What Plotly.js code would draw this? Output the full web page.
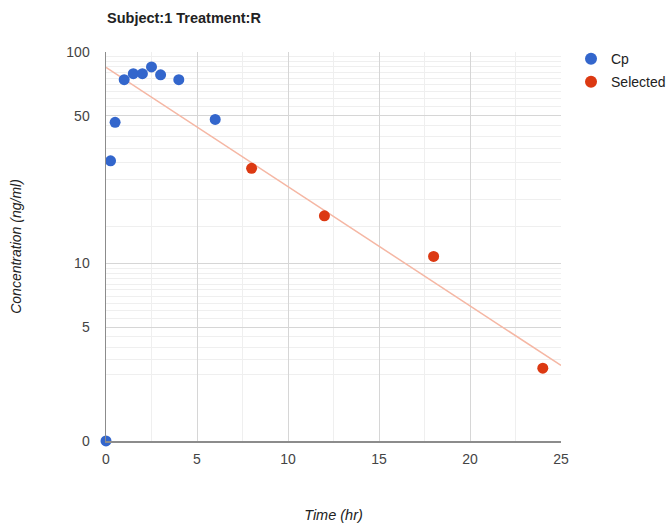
<!DOCTYPE html>
<html>
<head>
<meta charset="utf-8">
<script src="https://cdn.plot.ly/plotly-3.0.1.min.js"></script>
<style>html,body{margin:0;padding:0;background:#fff}#chart{width:671px;height:523px}</style>
</head>
<body>
<div id="chart"></div>
<script>
// Data
var cpTime = [0, 0.25, 0.5, 1, 1.5, 2, 2.5, 3, 4, 6];
var cpConc = [0, 30.6, 46.5, 74, 79, 79, 85, 78, 74, 48];
var selTime = [8, 12, 18, 24];
var selConc = [28.2, 16.8, 10.8, 3.2];
var yTickVals = [1.45, 5, 10, 50, 100];
var yTickText = ["0", "5", "10", "50", "100"];
var xTickVals = [0, 5, 10, 15, 20, 25];

var yFloor = yTickVals[0];
function show(v) { return v > 0 ? v : yFloor; }

// exponential trendline fitted to the selected points (log-linear regression)
var n = selTime.length, mx = 0, my = 0;
for (var i = 0; i < n; i++) { mx += selTime[i]; my += Math.log10(selConc[i]); }
mx /= n; my /= n;
var sxx = 0, sxy = 0;
for (var i = 0; i < n; i++) { sxx += (selTime[i]-mx)*(selTime[i]-mx); sxy += (selTime[i]-mx)*(Math.log10(selConc[i])-my); }
var slope = sxy / sxx, icpt = my - slope * mx;
var xMax = xTickVals[xTickVals.length-1];
var trendX = [xTickVals[0], xMax];
var trendY = trendX.map(function(t){ return Math.pow(10, icpt + slope*t); });

// minor gridline values
var yMinor = [];
for (var v = 3; v < 5; v += 0.5) yMinor.push(v);
for (var v = 5.5; v < 10; v += 0.5) yMinor.push(v);
for (var v = 15; v < 100; v += 5) if (v !== 50) yMinor.push(v);
var xMinor = [2.5, 7.5, 12.5, 17.5, 22.5];

var traces = [
  {x: trendX, y: trendY, mode: 'lines', line: {color: '#f5b7a4', width: 1.5}, showlegend: false, hoverinfo: 'skip'},
  {x: cpTime, y: cpConc.map(show), mode: 'markers', name: 'Cp', legendgroup: 'a', marker: {color: '#3366cc', size: 11}, cliponaxis: false},
  {x: selTime, y: selConc.map(show), mode: 'markers', name: 'Selected', legendgroup: 'b', marker: {color: '#dc3912', size: 11}, cliponaxis: false}
];

var layout = {
  width: 671, height: 523,
  margin: {l: 106, r: 110, t: 52, b: 82, autoexpand: false},
  paper_bgcolor: '#fff', plot_bgcolor: '#fff',
  font: {family: 'Liberation Sans, Arial, sans-serif', size: 13, color: '#444'},
  title: {text: 'Subject:1 Treatment:R', x: 107/671, xanchor: 'left', xref: 'container', y: 1 - 18/523, yanchor: 'middle',
          font: {family: 'Liberation Sans, Arial, sans-serif', size: 14.5, color: '#222', weight: 'bold'}},
  xaxis: {
    range: [0, 25], tickmode: 'array', tickvals: xTickVals, ticks: '',
    showgrid: true, gridcolor: '#d6d6d6', gridwidth: 1,
    minor: {tickmode: 'array', tickvals: xMinor, showgrid: true, gridcolor: '#efefef', gridwidth: 1, ticks: ''},
    zeroline: false, showline: true, linecolor: '#8c8c8c', linewidth: 1.5,
    ticklabelstandoff: 5,
    title: {text: 'Time (hr)', standoff: 47, font: {size: 14.5, color: '#222', style: 'italic'}},
    tickfont: {size: 14, color: '#444'}
  },
  yaxis: {
    type: 'log', range: [Math.log10(yFloor) - 0.0005, 2],
    tickmode: 'array', tickvals: yTickVals, ticktext: yTickText, ticks: '',
    showgrid: true, gridcolor: '#d6d6d6', gridwidth: 1,
    minor: {tickmode: 'array', tickvals: yMinor, showgrid: true, gridcolor: '#efefef', gridwidth: 1, ticks: ''},
    zeroline: false, showline: true, linecolor: '#8c8c8c', linewidth: 1.5,
    ticklabelstandoff: 12,
    title: {text: 'Concentration (ng/ml)', standoff: 41, font: {size: 14, color: '#222', style: 'italic'}},
    tickfont: {size: 14, color: '#444'}
  },
  legend: {x: 1.022, xanchor: 'left', y: 1.023, yanchor: 'top', font: {size: 14, color: '#222'}, bgcolor: 'rgba(0,0,0,0)', itemsizing: 'constant', tracegroupgap: 2},
  showlegend: true
};

Plotly.newPlot('chart', traces, layout, {displayModeBar: false, staticPlot: true});
</script>
</body>
</html>
